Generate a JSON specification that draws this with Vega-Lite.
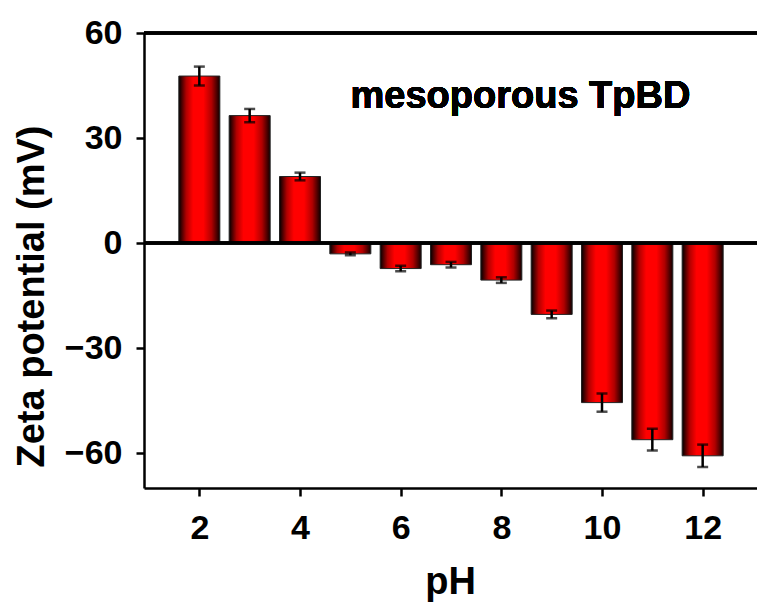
{
  "$schema": "https://vega.github.io/schema/vega-lite/v6.json",
  "autosize": {"type": "none"},
  "width": 614,
  "height": 455,
  "padding": {"left": 144, "top": 33, "right": 0, "bottom": 116},
  "background": "white",
  "config": {
    "view": {"stroke": null},
    "font": "Liberation Sans"
  },
  "data": {
    "values": [
      {"pH": 2, "zeta": 47.7, "err": 2.7},
      {"pH": 3, "zeta": 36.4, "err": 1.9},
      {"pH": 4, "zeta": 19.0, "err": 1.1},
      {"pH": 5, "zeta": -3.1, "err": 0.4},
      {"pH": 6, "zeta": -7.3, "err": 0.8},
      {"pH": 7, "zeta": -6.2, "err": 0.8},
      {"pH": 8, "zeta": -10.6, "err": 0.8},
      {"pH": 9, "zeta": -20.4, "err": 1.1},
      {"pH": 10, "zeta": -45.6, "err": 2.6},
      {"pH": 11, "zeta": -56.2, "err": 3.1},
      {"pH": 12, "zeta": -60.8, "err": 3.2}
    ]
  },
  "transform": [
    {"calculate": "datum.zeta - datum.err", "as": "lo"},
    {"calculate": "datum.zeta + datum.err", "as": "hi"}
  ],
  "layer": [
    {
      "mark": {"type": "rule", "color": "black", "strokeWidth": 2.5},
      "encoding": {"y": {"datum": 60, "type": "quantitative"}}
    },
    {
      "mark": {
        "type": "bar",
        "width": 41,
        "stroke": "#222222",
        "strokeWidth": 1,
        "fill": {
          "gradient": "linear",
          "x1": 0, "y1": 0, "x2": 1, "y2": 0,
          "stops": [
            {"offset": 0, "color": "#000000"},
            {"offset": 0.18, "color": "#b00000"},
            {"offset": 0.35, "color": "#ff0000"},
            {"offset": 0.6, "color": "#ff0000"},
            {"offset": 0.8, "color": "#b00000"},
            {"offset": 1, "color": "#100000"}
          ]
        }
      },
      "encoding": {
        "x": {
          "field": "pH",
          "type": "quantitative",
          "scale": {"domain": [1, 13], "nice": false},
          "axis": {
            "values": [2, 4, 6, 8, 10, 12],
            "title": "pH",
            "titleFontSize": 38,
            "titleFontWeight": "bold",
            "titleBaseline": "alphabetic",
            "titleY": 105,
            "titleX": 306,
            "titleColor": "black",
            "labelFontSize": 34,
            "labelFontWeight": "bold",
            "labelColor": "black",
            "labelBaseline": "alphabetic",
            "labelPadding": 42,
            "labelFlush": false,
            "domainColor": "black",
            "domainWidth": 2.5,
            "tickColor": "black",
            "tickWidth": 2.5,
            "tickSize": 8,
            "grid": false
          }
        },
        "y": {
          "field": "zeta",
          "type": "quantitative",
          "scale": {"domain": [-70, 60], "nice": false},
          "axis": {
            "values": [-60, -30, 0, 30, 60],
            "title": "Zeta potential (mV)",
            "titleFontSize": 38,
            "titleFontWeight": "bold",
            "titleColor": "black",
            "titleAngle": -90,
            "titleBaseline": "alphabetic",
            "titleAlign": "center",
            "titleX": -101,
            "titleY": 263,
            "labelFontSize": 34,
            "labelFontWeight": "bold",
            "labelColor": "black",
            "labelPadding": 14,
            "labelFlush": false,
            "domainColor": "black",
            "domainWidth": 2.5,
            "tickColor": "black",
            "tickWidth": 2.5,
            "tickSize": 8,
            "grid": false
          }
        }
      }
    },
    {
      "mark": {"type": "rule", "color": "black", "strokeWidth": 2.5},
      "encoding": {
        "x": {"field": "pH", "type": "quantitative"},
        "y": {"field": "lo", "type": "quantitative"},
        "y2": {"field": "hi"}
      }
    },
    {
      "mark": {"type": "tick", "color": "black", "thickness": 2.5, "size": 11, "orient": "horizontal"},
      "encoding": {
        "x": {"field": "pH", "type": "quantitative"},
        "y": {"field": "lo", "type": "quantitative"}
      }
    },
    {
      "mark": {"type": "tick", "color": "black", "thickness": 2.5, "size": 11, "orient": "horizontal"},
      "encoding": {
        "x": {"field": "pH", "type": "quantitative"},
        "y": {"field": "hi", "type": "quantitative"}
      }
    },
    {
      "mark": {"type": "rule", "color": "black", "strokeWidth": 2.5},
      "encoding": {"y": {"datum": 0, "type": "quantitative"}}
    },
    {
      "mark": {
        "type": "text",
        "text": "mesoporous TpBD",
        "fontSize": 38,
        "fontWeight": "bold",
        "color": "black",
        "align": "center",
        "baseline": "alphabetic"
      },
      "encoding": {
        "x": {"datum": 8.38, "type": "quantitative"},
        "y": {"datum": 38.6, "type": "quantitative"}
      }
    }
  ]
}
